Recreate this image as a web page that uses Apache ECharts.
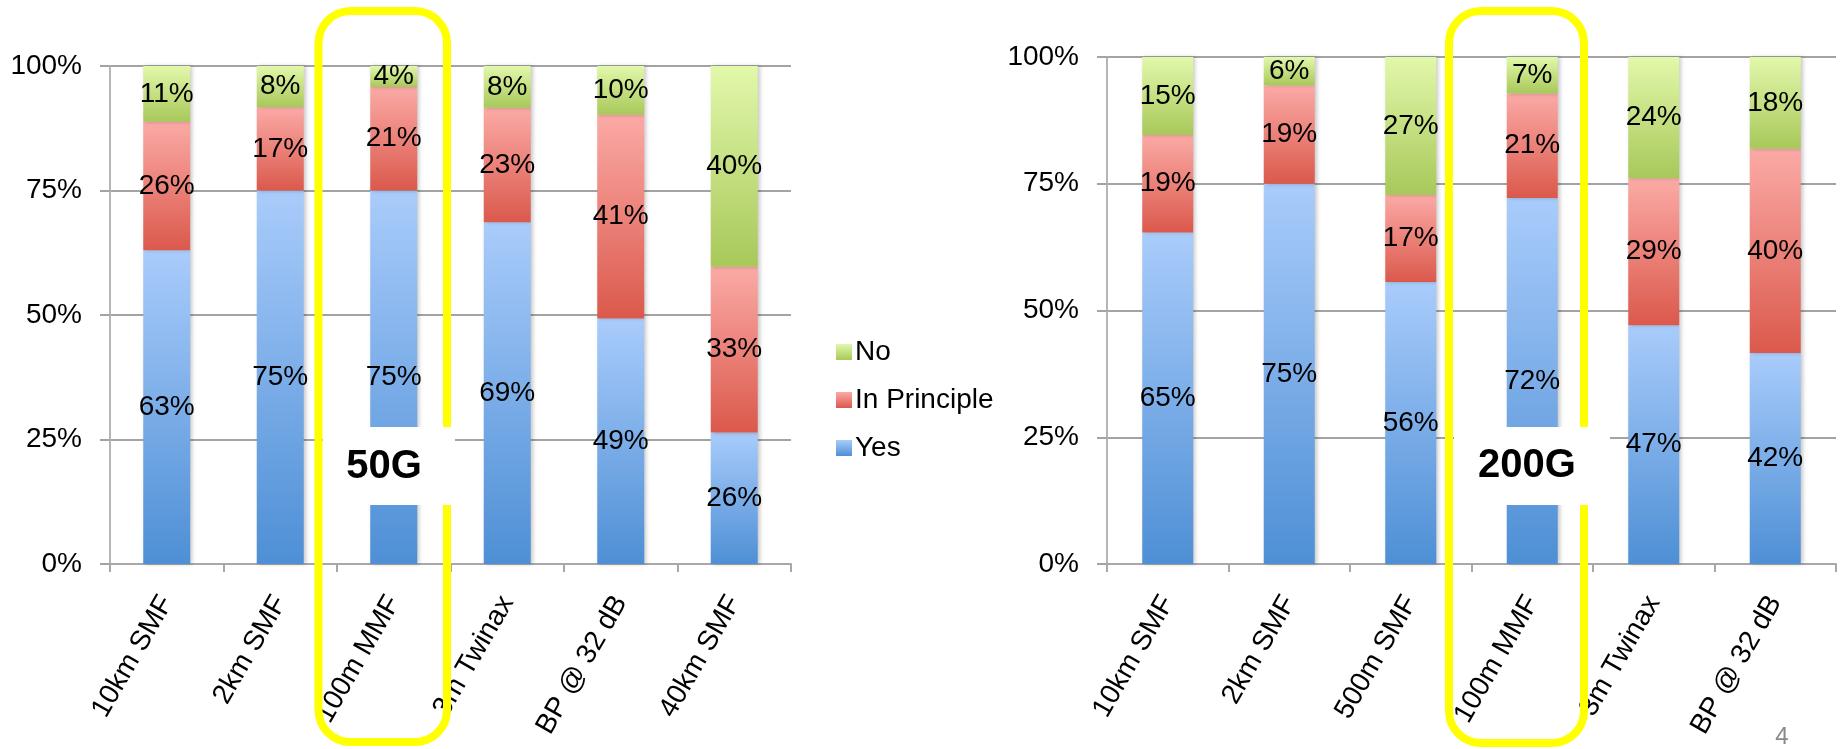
<!DOCTYPE html>
<html>
<head>
<meta charset="utf-8">
<script src="https://cdn.jsdelivr.net/npm/echarts@6/dist/echarts.min.js"></script>
<style>
html,body{margin:0;padding:0;background:#fff;}
#c{width:1843px;height:749px;}
</style>
</head>
<body>
<div id="c"></div>
<script>
// ---- data ----
var cats50 = ['10km SMF', '2km SMF', '100m MMF', '3m Twinax', 'BP @ 32 dB', '40km SMF'];
var yes50 = [63.0, 75.0, 75.0, 68.6, 49.3, 26.4];
var ip50  = [25.8, 16.7, 20.8, 23.0, 40.9, 33.3];
var no50  = [11.2, 8.3, 4.2, 8.4, 9.8, 40.3];

var cats200 = ['10km SMF', '2km SMF', '500m SMF', '100m MMF', '3m Twinax', 'BP @ 32 dB'];
var yes200 = [65.4, 75.0, 55.6, 72.2, 47.1, 41.6];
var ip200  = [19.2, 19.4, 17.2, 20.6, 29.0, 40.3];
var no200  = [15.4, 5.6, 27.2, 7.2, 23.9, 18.1];

var seriesNames = ['Yes', 'In Principle', 'No'];
var legendOrder = ['No', 'In Principle', 'Yes'];
var yTicks = [0, 25, 50, 75, 100];

// ---- styles ----
var FONT = 'Liberation Sans, Arial, sans-serif';
var G = echarts.graphic;
function grad(top, bottom) {
  return new G.LinearGradient(0, 0, 0, 1, [{offset: 0, color: top}, {offset: 1, color: bottom}]);
}
var colors = {
  'Yes': grad('#a9ccfb', '#4e8fd5'),
  'In Principle': grad('#fbaaa6', '#db594c'),
  'No': grad('#e2f8ab', '#a8c85a')
};
var gridColor = '#a3a3a3';

function xAxis(gi, cats, margin) {
  return {
    type: 'category', gridIndex: gi, data: cats,
    axisLine: {show: true, lineStyle: {color: '#a8a8a8', width: 2}},
    axisTick: {show: true, length: 8, alignWithLabel: false, lineStyle: {color: '#a8a8a8', width: 2}},
    axisLabel: {interval: 0, rotate: 60, fontSize: 28, color: '#000', fontFamily: FONT, margin: margin}
  };
}
function yAxis(gi) {
  return {
    type: 'value', gridIndex: gi, min: 0, max: 100, interval: 25,
    axisLine: {show: true, lineStyle: {color: '#b5b5b5', width: 2}},
    axisTick: {show: true, length: 10, lineStyle: {color: gridColor, width: 2}},
    splitLine: {show: true, lineStyle: {color: gridColor, width: 2}},
    axisLabel: {formatter: '{value}%', fontSize: 28, color: '#000', fontFamily: FONT, margin: 28}
  };
}
function mkSeries(name, data, gi, stack, bw) {
  return {
    type: 'bar', name: name, data: data, stack: stack,
    xAxisIndex: gi, yAxisIndex: gi, barWidth: bw,
    itemStyle: {color: colors[name], shadowColor: 'rgba(0,0,0,0.22)', shadowBlur: 4, shadowOffsetX: 2},
    label: {show: true, position: 'inside', fontSize: 28, color: '#000', fontFamily: FONT,
      formatter: function (p) { return Math.round(p.value) + '%'; }},
    emphasis: {disabled: true}
  };
}

var chart = echarts.init(document.getElementById('c'), null, {renderer: 'canvas'});
var option = {
  animation: false,
  backgroundColor: '#fff',
  grid: [
    {left: 110, top: 66, width: 681, height: 498},
    {left: 1107, top: 57, width: 729, height: 507}
  ],
  xAxis: [xAxis(0, cats50, 34), xAxis(1, cats200, 34)],
  yAxis: [yAxis(0), yAxis(1)],
  legend: {
    orient: 'vertical', left: 831, top: 333, data: legendOrder,
    icon: 'rect', itemWidth: 16, itemHeight: 16, itemGap: 20,
    textStyle: {fontSize: 28, color: '#000', fontFamily: FONT, padding: [0, 0, 0, -2]},
    selectedMode: false
  },
  series: [
    mkSeries('Yes', yes50, 0, 's50', 47),
    mkSeries('In Principle', ip50, 0, 's50', 47),
    mkSeries('No', no50, 0, 's50', 47),
    mkSeries('Yes', yes200, 1, 's200', 51),
    mkSeries('In Principle', ip200, 1, 's200', 51),
    mkSeries('No', no200, 1, 's200', 51)
  ],
  graphic: [
    {type: 'rect', z: 100, shape: {x: 318.5, y: 11, width: 128.5, height: 731, r: 32},
      style: {fill: 'none', stroke: '#ffff00', lineWidth: 8}},
    {type: 'rect', z: 101, shape: {x: 323, y: 427, width: 132, height: 78},
      style: {fill: '#ffffff'}},
    {type: 'text', z: 102, x: 384, y: 467, style: {text: '50G', fontSize: 40, fontWeight: 'bold',
      fontFamily: FONT, fill: '#000', align: 'center', verticalAlign: 'middle'}},
    {type: 'rect', z: 100, shape: {x: 1449, y: 11, width: 135, height: 732, r: 32},
      style: {fill: 'none', stroke: '#ffff00', lineWidth: 8}},
    {type: 'rect', z: 101, shape: {x: 1454, y: 427, width: 156, height: 78},
      style: {fill: '#ffffff'}},
    {type: 'text', z: 102, x: 1527, y: 466, style: {text: '200G', fontSize: 40, fontWeight: 'bold',
      fontFamily: FONT, fill: '#000', align: 'center', verticalAlign: 'middle'}},
    {type: 'text', z: 102, x: 1782, y: 737, style: {text: '4', fontSize: 24,
      fontFamily: FONT, fill: '#8a8a8a', align: 'center', verticalAlign: 'middle'}}
  ]
};
chart.setOption(option);
</script>
</body>
</html>
